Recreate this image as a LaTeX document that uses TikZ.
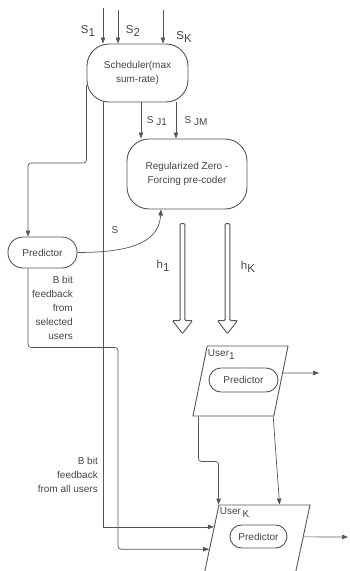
\documentclass[tikz,border=0pt]{standalone}
\usepackage{fontspec}
\setmainfont{Liberation Sans}
\usetikzlibrary{arrows.meta,positioning,shapes.geometric,shapes.arrows,calc}
\definecolor{lineclr}{RGB}{85,85,85}
\definecolor{textclr}{RGB}{68,68,68}
\newcommand{\lowered}[1]{\raisebox{-0.45ex}{#1}}

\begin{document}
\begin{tikzpicture}[
    x=1pt, y=-1pt,
    font=\fontsize{10}{14}\selectfont, text=textclr,
    capsule/.style={draw=lineclr, line width=0.9pt, rectangle, align=center, inner sep=0pt},
    userbox/.style={draw=lineclr, line width=0.9pt, trapezium, trapezium stretches=true, inner sep=1pt},
    fatarrow/.style={draw=lineclr, line width=0.9pt, single arrow, shape border rotate=270, minimum height=110pt, minimum width=20pt, single arrow head extend=4.5pt, single arrow tip angle=75, inner sep=1pt, rounded corners=1pt},
    conn/.style={draw=lineclr, line width=0.7pt, -{Triangle[length=6pt,width=4.5pt]}},
    lbl/.style={inner sep=0pt, align=right},
    biglbl/.style={lbl, font=\fontsize{11.5}{14}\selectfont}
]
    \path[use as bounding box] (0,0) rectangle (349,571);
    \clip (0,0) rectangle (349,571);

    \node[capsule, minimum width=101pt, minimum height=58pt, rounded corners=22pt] (sched) at (137.5,73) {Scheduler(max\\sum-rate)};
    \node[capsule, minimum width=120pt, minimum height=70pt, rounded corners=22pt] (rzf) at (187,174) {Regularized Zero -\\Forcing pre-coder};
    \node[capsule, minimum width=69pt, minimum height=31pt, rounded corners=15pt] (pred) at (42.5,252.5) {Predictor};
    \node[fatarrow] (h1) at (182.5,277) {};
    \node[fatarrow] (hK) at (227.5,277) {};
    \node[userbox, minimum width=95pt, minimum height=70pt, trapezium left angle=78, trapezium right angle=102] (u1) at (240.5,381) {};
    \node[capsule, minimum width=69pt, minimum height=24pt, rounded corners=12pt] (pred1) at (243.5,380) {Predictor};
    \node[userbox, minimum width=109.2pt, minimum height=85pt, trapezium left angle=76, trapezium right angle=104] (uK) at (255.4,547.5) {};
    \node[capsule, minimum width=57pt, minimum height=23pt, rounded corners=11.5pt] (predK) at (258.5,536.5) {Predictor};

    \node[biglbl] (ls1) at (88,31) {S\lowered{1}};
    \node[biglbl] (ls2) at (133,31) {S\lowered{2}};
    \node[biglbl] (lsK) at (184,37) {S\lowered{K}};
    \node[lbl] (lsJ1) at (157,121) {S\lowered{ J1}};
    \node[lbl] (lsJM) at (196,121) {S\lowered{ JM}};
    \node[lbl] (ls) at (115,230) {S};
    \node[biglbl] (lh1) at (163,266) {h\lowered{1}};
    \node[biglbl] (lhK) at (248,267) {h\lowered{K}};
    \node[lbl, anchor=north east] (lsel) at (73,276) {B bit\\feedback\\from\\selected\\users};
    \node[lbl, anchor=north east] (lall) at (98,457) {B bit\\feedback\\from all users};
    \node[lbl, anchor=north west] (lu1) at ($(u1.top left corner)+(1,4)$) {User\lowered{1}};
    \node[lbl, anchor=north west] (luK) at ($(uK.top left corner)+(1,3)$) {User\,\lowered{K}};

    \coordinate (in1) at (103,8);
    \coordinate (in2) at (118,10);
    \coordinate (inK) at (163,10);
    \coordinate (uKin1) at ($(uK.top left corner)!0.26!(uK.bottom left corner)$);
    \coordinate (uKin2) at ($(uK.top left corner)!0.52!(uK.bottom left corner)$);
    \coordinate (u1out) at ($(u1.top right corner)!0.386!(u1.bottom right corner)$);
    \coordinate (uKout) at ($(uK.top right corner)!0.376!(uK.bottom right corner)$);
    \coordinate (u1tx) at (319,373);
    \coordinate (uKtx) at (348,537);

    \draw[conn] (in1) -- (in1 |- sched.north);
    \draw[conn] (in2) -- (in2 |- sched.north);
    \draw[conn] (inK) -- (inK |- sched.north);
    \draw[conn] ([xshift=3.5pt]sched.south) -- ([xshift=3.5pt]sched.south |- rzf.north);
    \draw[conn] ([xshift=38.5pt]sched.south) -- ([xshift=38.5pt]sched.south |- rzf.north);
    \draw[conn, rounded corners=3pt] ([yshift=-12pt]sched.west) -- ++(0,78) -| ([xshift=-14.5pt]pred.north);
    \draw[conn] ([xshift=-34.5pt]sched.south) |- (uKin1);
    \draw[conn, rounded corners=3pt] ([xshift=-14.5pt]pred.south) -- ++(0,79) -- ++(90,0) |- (uKin2);
    \draw[conn] (pred.east) .. controls +(60,0) and +(-2,30) .. ([xshift=-26pt]rzf.south);
    \draw[conn] (u1out) -- (u1tx);
    \draw[conn] (uKout) -- (uKtx);
    \draw[conn, rounded corners=3pt] ([xshift=6pt]u1.bottom left corner) -- ++(0,45) -| (uK.top left corner);
    \draw[conn] ([xshift=-1pt]u1.bottom right corner) -- ([xshift=-31pt]uK.top right corner);
\end{tikzpicture}
\end{document}
